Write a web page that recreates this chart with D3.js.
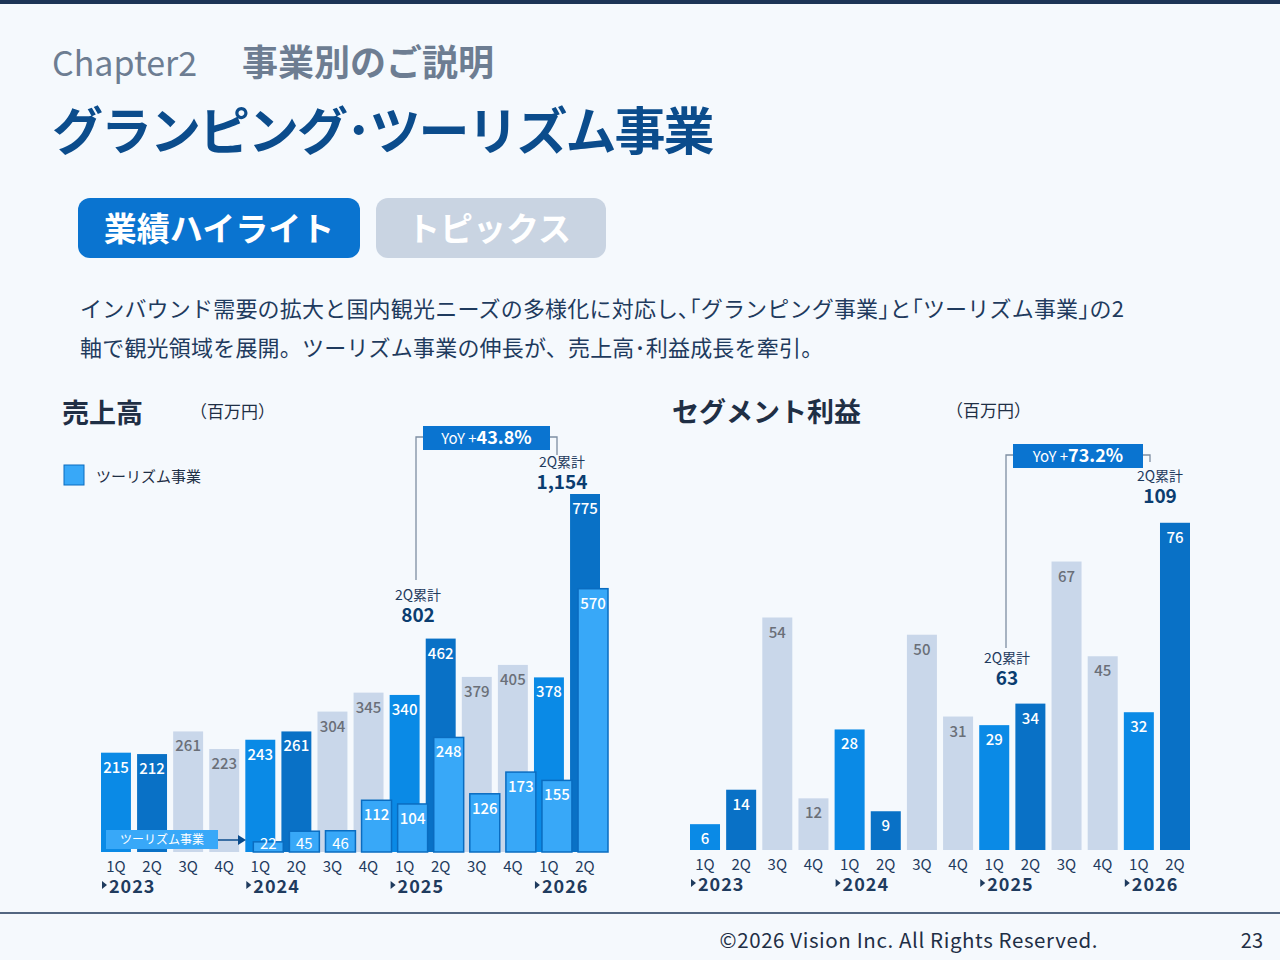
<!DOCTYPE html>
<html><head><meta charset="utf-8">
<script src="https://cdn.jsdelivr.net/npm/d3@7/dist/d3.min.js"></script>
<style>body{margin:0;background:#f5f9fd;font-family:"Noto Sans CJK JP","Noto Sans",sans-serif}</style>
</head><body><svg id="c" width="1280" height="960"></svg>
<script>
const quarters = ["1Q","2Q","3Q","4Q","1Q","2Q","3Q","4Q","1Q","2Q","3Q","4Q","1Q","2Q"];
const years = ["2023","2024","2025","2026"];
const sales = [215,212,261,223,243,261,304,345,340,462,379,405,378,775];
const tourism = [null,null,null,null,22,45,46,112,104,248,126,173,155,570];
const profit = [6,14,54,12,28,9,50,31,29,34,67,45,32,76];

const svg = d3.select("#c");
const F = '"Noto Sans CJK JP","Noto Sans",sans-serif';
const col = i => [ "#0a8ae6", "#0971c6", "#c9d7ea", "#c9d7ea"][i % 4];
const lblCol = i => (i % 4 < 2 ? "#fff" : "#6a6f78");

svg.append("rect").attr("width",1280).attr("height",4).attr("fill","#1d3557");
svg.append("text").attr("x",52).attr("y",76).attr("font-family",F).attr("font-size",34).attr("fill","#6d7d92").text("Chapter2");
svg.append("text").attr("x",242).attr("y",76).attr("font-family",F).attr("font-size",36).attr("font-weight",700).attr("fill","#6d7d92").text("事業別のご説明");
svg.append("text").attr("x",52).attr("y",150).attr("font-family",F).attr("font-size",51).attr("font-weight",700).attr("letter-spacing",-2).attr("fill","#0b4c8c").text("グランピング･ツーリズム事業");
svg.append("rect").attr("x",78).attr("y",198).attr("width",282).attr("height",60).attr("rx",12).attr("fill","#0a74d0");
svg.append("text").attr("x",219).attr("y",241).attr("text-anchor","middle").attr("font-family",F).attr("font-size",33).attr("font-weight",700).attr("fill","#fff").text("業績ハイライト");
svg.append("rect").attr("x",376).attr("y",198).attr("width",230).attr("height",60).attr("rx",12).attr("fill","#c9d4e2");
svg.append("text").attr("x",489).attr("y",241).attr("text-anchor","middle").attr("font-family",F).attr("font-size",33).attr("font-weight",700).attr("fill","#fff").text("トピックス");
svg.append("text").attr("x",80).attr("y",317).attr("font-family",F).attr("font-size",22).attr("letter-spacing",0.2).attr("fill","#1f3b5e").text("インバウンド需要の拡大と国内観光ニーズの多様化に対応し､｢グランピング事業｣と｢ツーリズム事業｣の2");
svg.append("text").attr("x",80).attr("y",356).attr("font-family",F).attr("font-size",22).attr("letter-spacing",0.2).attr("fill","#1f3b5e").text("軸で観光領域を展開。ツーリズム事業の伸長が、売上高･利益成長を牽引。");

svg.append("line").attr("x1",0).attr("x2",1280).attr("y1",913).attr("y2",913).attr("stroke","#1d3557").attr("stroke-width",1.5);
svg.append("text").attr("x",1098).attr("y",948).attr("text-anchor","end").attr("font-family",F).attr("font-size",20.5).attr("letter-spacing",0.6).attr("fill","#1f2f45").text("©2026 Vision Inc. All Rights Reserved.");
svg.append("text").attr("x",1263).attr("y",948).attr("text-anchor","end").attr("font-family",F).attr("font-size",20).attr("fill","#1f2f45").text("23");

function axisLabels(x, base) {
  const g = svg.append("g");
  quarters.forEach((q,i)=> g.append("text").attr("x",x(i)+x.bandwidth()/2).attr("y",base+20).attr("text-anchor","middle")
    .attr("font-family",F).attr("font-size",15).attr("fill","#1f3b5e").text(q));
  years.forEach((y,k)=>{
    const xx = x(k*4)+x.bandwidth()/2-4;
    g.append("path").attr("d",`M${xx-10},${base+29}l5,4l-5,4z`).attr("fill","#1f3b5e");
    g.append("text").attr("x",xx-3).attr("y",base+41).attr("font-family",F).attr("font-size",18).attr("font-weight",700).attr("letter-spacing",1).attr("fill","#1f3b5e").text(y);
  });
}
function barLabel(x, y, v, c, w) {
  svg.append("text").attr("x",x+w/2).attr("y",y+20).attr("text-anchor","middle").attr("font-family",F).attr("font-size",15).attr("font-weight",500).attr("fill",c).text(v);
}
function yoy(x1, x2, yTop, yL, yR, txt) {
  svg.append("path").attr("d",`M${x1},${yL}V${yTop+6}H${x2}V${yR}`).attr("fill","none").attr("stroke","#7d8ea3").attr("stroke-width",1.3);
  svg.append("rect").attr("x",x1+7).attr("y",yTop-5).attr("width",x2-x1-14).attr("height",24).attr("fill","#0a74d0");
  const t = svg.append("text").attr("x",(x1+x2)/2).attr("y",yTop+13).attr("text-anchor","middle").attr("font-family",F).attr("fill","#fff");
  t.append("tspan").attr("font-size",15).text("YoY +");
  t.append("tspan").attr("font-size",18).attr("font-weight",700).text(txt);
}
function cum(x, y, v) {
  svg.append("text").attr("x",x).attr("y",y-2).attr("text-anchor","middle").attr("font-family",F).attr("font-size",14).attr("fill","#1f3b5e").text("2Q累計");
  svg.append("text").attr("x",x).attr("y",y+20).attr("text-anchor","middle").attr("font-family",F).attr("font-size",19).attr("font-weight",700).attr("fill","#0b3d70").text(v);
}

// Left chart: 売上高
svg.append("text").attr("x",62).attr("y",423).attr("font-family",F).attr("font-size",27).attr("font-weight",700).attr("fill","#1f2f45").text("売上高");
svg.append("text").attr("x",190).attr("y",418).attr("font-family",F).attr("font-size",17).attr("fill","#1f2f45").text("（百万円）");
svg.append("rect").attr("x",64).attr("y",465).attr("width",20).attr("height",20).attr("fill","#38a8f8").attr("stroke","#0a6cc0");
svg.append("text").attr("x",96).attr("y",482).attr("font-family",F).attr("font-size",15).attr("fill","#1f2f45").text("ツーリズム事業");

const base1 = 852;
const x1 = d3.scaleBand().domain(d3.range(14)).range([101,600]).paddingInner(0.17).paddingOuter(0);
const y1 = d3.scaleLinear().domain([0,775]).range([base1,494]);
const w1 = x1.bandwidth();
sales.forEach((v,i)=>{
  svg.append("rect").attr("x",x1(i)).attr("y",y1(v)).attr("width",w1).attr("height",base1-y1(v)).attr("fill",col(i));
  barLabel(x1(i), y1(v), v, lblCol(i), w1);
});
tourism.forEach((v,i)=>{
  if (v == null) return;
  const xx = x1(i)+8;
  svg.append("rect").attr("x",xx).attr("y",y1(v)).attr("width",w1).attr("height",base1-y1(v)).attr("fill","#38a8f8").attr("stroke","#0a6cc0").attr("stroke-width",1.5);
  if (v < 60) svg.append("text").attr("x",xx+w1/2).attr("y",base1-3).attr("text-anchor","middle").attr("font-family",F).attr("font-size",15).attr("fill","#fff").text(v);
  else barLabel(xx, y1(v), v, "#fff", w1);
});
svg.append("rect").attr("x",106).attr("y",830).attr("width",112).attr("height",19).attr("fill","#38a8f8");
svg.append("text").attr("x",162).attr("y",844).attr("text-anchor","middle").attr("font-family",F).attr("font-size",12).attr("fill","#fff").text("ツーリズム事業");
svg.append("line").attr("x1",218).attr("x2",240).attr("y1",840).attr("y2",840).attr("stroke","#0b4c8c").attr("stroke-width",1.5);
svg.append("path").attr("d","M238,835l8,5l-8,5z").attr("fill","#0b4c8c");
axisLabels(x1, base1);
yoy(416, 557, 431, 580, 455, "43.8%");
cum(418, 602, "802");
cum(562, 469, "1,154");

// Right chart: セグメント利益
svg.append("text").attr("x",672).attr("y",422).attr("font-family",F).attr("font-size",27).attr("font-weight",700).attr("fill","#1f2f45").text("セグメント利益");
svg.append("text").attr("x",946).attr("y",417).attr("font-family",F).attr("font-size",17).attr("fill","#1f2f45").text("（百万円）");
const base2 = 850;
const x2 = d3.scaleBand().domain(d3.range(14)).range([690,1190]).paddingInner(0.17).paddingOuter(0);
const y2 = d3.scaleLinear().domain([0,72]).range([base2,540]);
const w2 = x2.bandwidth();
profit.forEach((v,i)=>{
  svg.append("rect").attr("x",x2(i)).attr("y",y2(v)).attr("width",w2).attr("height",base2-y2(v)).attr("fill",col(i));
  barLabel(x2(i), y2(v), v, lblCol(i), w2);
});
axisLabels(x2, base2);
yoy(1006, 1150, 449, 648, 462, "73.2%");
cum(1007, 665, "63");
cum(1160, 483, "109");
</script></body></html>
